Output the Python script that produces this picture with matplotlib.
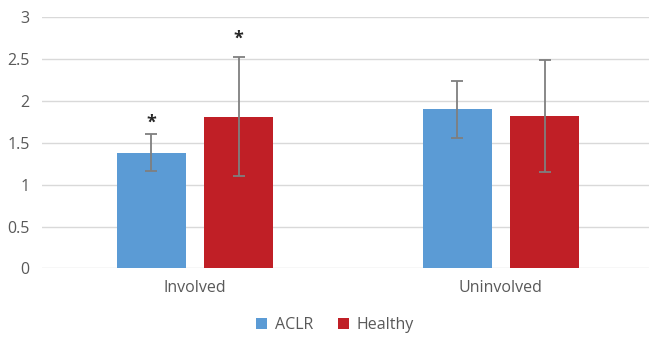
import matplotlib
matplotlib.use("Agg")
from matplotlib import pyplot as plt
import numpy as np

categories = ["Involved", "Uninvolved"]
series_names = ["ACLR", "Healthy"]
aclr_means = [1.38, 1.90]
aclr_sd = [0.22, 0.34]
healthy_means = [1.81, 1.82]
healthy_sd = [0.71, 0.67]
# significance markers: (series, category, height)
stars = [("ACLR", 0, 1.74), ("Healthy", 0, 2.74)]

colors = {"ACLR": "#5B9BD5", "Healthy": "#C01F26"}
text_color = "#595959"

plt.rcParams['font.family'] = ['Open Sans', 'DejaVu Sans']

fig = plt.figure(figsize=(6.49, 3.4), dpi=100)
ax = fig.add_axes([42 / 649, 0.2103, 1 - 42 / 649, 0.95 - 0.2103])

x = np.arange(len(categories))
width = 0.2245
offset = 0.1425
data = {"ACLR": (aclr_means, aclr_sd), "Healthy": (healthy_means, healthy_sd)}
for i, name in enumerate(series_names):
    means, sd = data[name]
    pos = x + (i * 2 - 1) * offset
    ax.bar(pos, means, width, color=colors[name], label=name, zorder=2)
    ax.errorbar(pos, means, yerr=sd, fmt="none", ecolor="#7F7F7F",
                elinewidth=1.3, capsize=4, capthick=1.3, zorder=3)

for name, ci, h in stars:
    i = series_names.index(name)
    ax.text(x[ci] + (i * 2 - 1) * offset, h, "*", ha="center", va="center",
            fontsize=13, fontweight="bold", color="#262626")

ax.set_ylim(0, 3)
ax.set_xlim(-0.5, 1.484)
ax.set_yticks(np.arange(0, 3.01, 0.5))
ax.set_yticklabels(["0", "0.5", "1", "1.5", "2", "2.5", "3"])
ax.set_xticks(x)
ax.set_xticklabels(categories)
ax.yaxis.grid(True, color="#D9D9D9", linewidth=1, zorder=0)
ax.set_axisbelow(True)
for s in ax.spines.values():
    s.set_visible(False)
ax.tick_params(axis="both", length=0, colors=text_color, labelsize=11.5)
ax.tick_params(axis="y", pad=9)
ax.tick_params(axis="x", pad=8)

ax.legend(loc="upper center", bbox_to_anchor=(0.483, -0.135), ncol=2,
          frameon=False, fontsize=11.5, handlelength=0.65, handleheight=0.65,
          columnspacing=1.6, handletextpad=0.5, labelcolor=text_color)

fig.savefig("out.png", dpi=100)
